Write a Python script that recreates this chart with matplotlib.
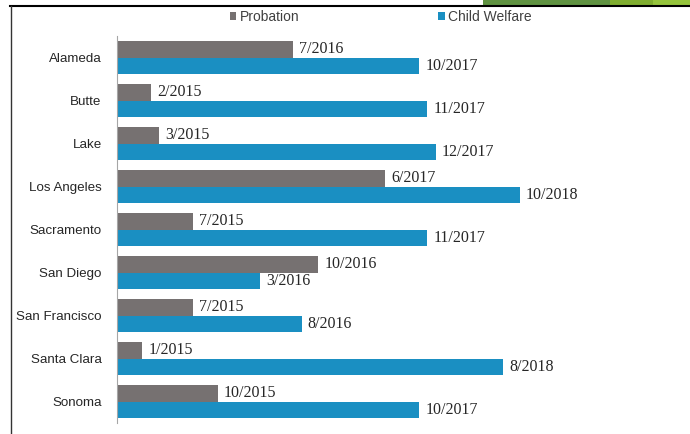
import matplotlib.pyplot as plt
from matplotlib.patches import Rectangle
from matplotlib.lines import Line2D
import numpy as np

# Datos del grafico
counties = ['Alameda', 'Butte', 'Lake', 'Los Angeles', 'Sacramento',
            'San Diego', 'San Francisco', 'Santa Clara', 'Sonoma']
probation = ['7/2016', '2/2015', '3/2015', '6/2017', '7/2015',
             '10/2016', '7/2015', '1/2015', '10/2015']
child_welfare = ['10/2017', '11/2017', '12/2017', '10/2018', '11/2017',
                 '3/2016', '8/2016', '8/2018', '10/2017']

# el eje empieza en 10/2014
START_YEAR, START_MONTH = 2014, 10


def months(label):
    m, y = label.split('/')
    return (int(y) - START_YEAR) * 12 + int(m) - START_MONTH


gray = '#767171'
blue = '#1a8fc2'

fig = plt.figure(figsize=(6.9, 4.34), dpi=100)
ax = fig.add_axes([117 / 690, 11 / 434, 543 / 690, 387 / 434])

y = np.arange(len(counties))
h = 0.385
p_vals = [months(s) for s in probation]
c_vals = [months(s) for s in child_welfare]

bp = ax.barh(y - h / 2, p_vals, height=h, color=gray, label='Probation')
bc = ax.barh(y + h / 2, c_vals, height=h, color=blue, label='Child Welfare')

for bars, labels in ((bp, probation), (bc, child_welfare)):
    for b, lab in zip(bars, labels):
        ax.annotate(lab, (b.get_width(), b.get_y() + b.get_height() / 2),
                    xytext=(4.5, 0), textcoords='offset points',
                    ha='left', va='center', fontsize=11.5,
                    family='Liberation Serif', color='#262626')

ax.set_xlim(0, 543 / 8.39)
ax.set_ylim(len(counties) - 0.5, -0.5)
ax.set_yticks(y)
ax.set_yticklabels(counties, family='Liberation Sans', fontsize=9.6, color='#262626')
ax.tick_params(axis='y', length=0, pad=11)
ax.set_xticks([])
for s in ['top', 'right', 'bottom']:
    ax.spines[s].set_visible(False)
ax.spines['left'].set_color('#a6a6a6')

fig.legend(handles=[bp, bc], loc='center', bbox_to_anchor=(381 / 690, 1 - 17 / 434),
           ncol=2, frameon=False, prop={'family': 'Liberation Sans', 'size': 10},
           handlelength=0.45, handleheight=0.45, handletextpad=0.25,
           columnspacing=10.0, labelcolor='#404040')

# marco y decoracion de la diapositiva
fig.add_artist(Line2D([10 / 690, 1], [1 - 6 / 434, 1 - 6 / 434],
                      transform=fig.transFigure, color='black', lw=1.5))
fig.add_artist(Line2D([11 / 690, 11 / 690], [0, 1 - 6 / 434],
                      transform=fig.transFigure, color='#333333', lw=1))
for x0, x1, c in [(483, 610, '#5f9241'), (610, 653, '#7fad2f'), (653, 690, '#95c43c')]:
    fig.add_artist(Rectangle((x0 / 690, 1 - 5 / 434), (x1 - x0) / 690, 5 / 434,
                             transform=fig.transFigure, color=c, lw=0))

fig.savefig('out.png', dpi=100)
